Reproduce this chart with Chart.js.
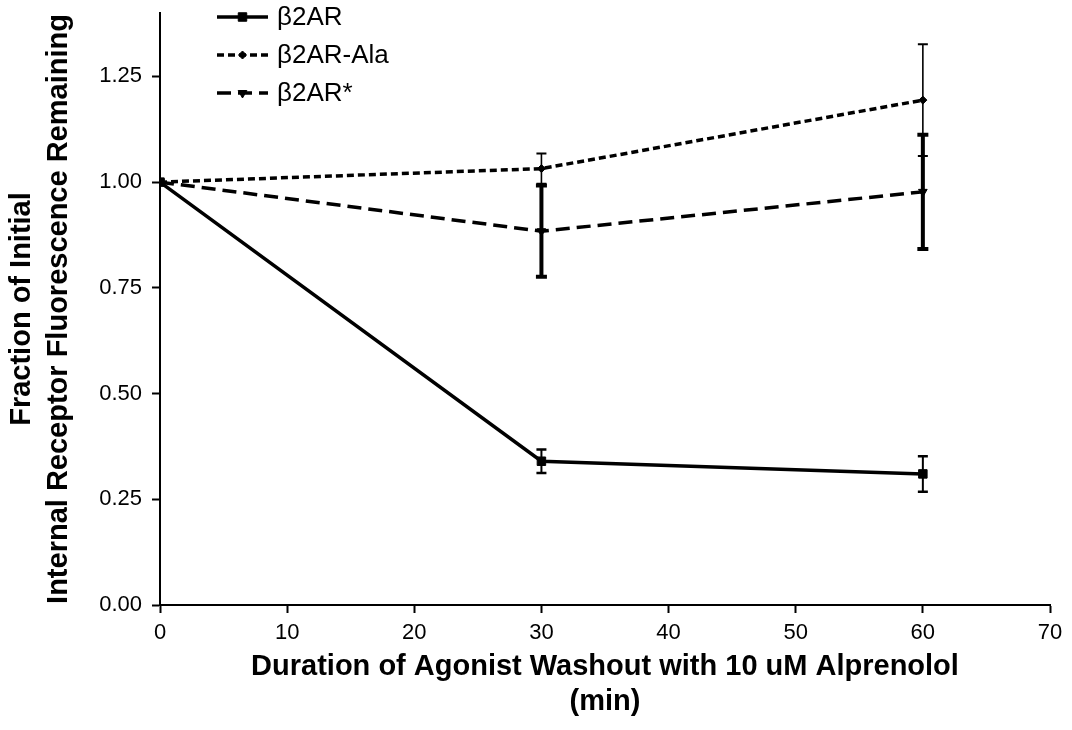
<!DOCTYPE html>
<html>
<head>
<meta charset="utf-8">
<script src="https://cdn.jsdelivr.net/npm/chart.js@4.4.1/dist/chart.umd.min.js"></script>
<style>
  html, body { margin: 0; padding: 0; background: #fff; }
  #wrap { width: 1072px; height: 730px; }
</style>
</head>
<body>
<div id="wrap"><canvas id="c" width="1072" height="730"></canvas></div>
<script>
// Washout time points (min)
const times = [0, 30, 60];

// Fraction of initial internal receptor fluorescence remaining, with SEM
const b2ar      = [1.00, 0.340, 0.310];
const b2arErr   = [0, 0.028, 0.042];
const b2arAla   = [1.00, 1.032, 1.194];
const b2arAlaErr = [0, 0.036, 0.132];
const b2arStar  = [1.00, 0.884, 0.977];
const b2arStarErr = [0, 0.108, 0.135];

const seriesNames = ['\u03B22AR', '\u03B22AR-Ala', '\u03B22AR*'];
const xTicks = [0, 10, 20, 30, 40, 50, 60, 70];
const yTicks = [0, 0.25, 0.5, 0.75, 1.0, 1.25];

const FONT = "'Liberation Sans', Arial, Helvetica, sans-serif";

const pts = (ys) => times.map((t, i) => ({ x: t, y: ys[i] }));

const styles = [
  { dash: [], pointStyle: 'rect', radius: 6, rotation: 0, errWidth: 2, capW: 10, capLW: 2.5 },
  { dash: [7, 4], pointStyle: 'rectRot', radius: 4, rotation: 0, errWidth: 1.6, capW: 10, capLW: 2 },
  { dash: [14, 7], pointStyle: 'triangle', radius: 5, rotation: 180, errWidth: 4, capW: 11, capLW: 4 }
];

const values = [b2ar, b2arAla, b2arStar];
const errors = [b2arErr, b2arAlaErr, b2arStarErr];

const datasets = values.map((v, i) => ({
  label: seriesNames[i],
  data: pts(v),
  errors: errors[i],
  borderColor: '#000',
  backgroundColor: '#000',
  borderWidth: 3.5,
  borderDash: styles[i].dash,
  pointStyle: styles[i].pointStyle,
  pointRadius: styles[i].radius,
  pointRotation: styles[i].rotation,
  pointBorderWidth: 1,
  pointBackgroundColor: '#000',
  pointBorderColor: '#000',
  tension: 0,
  fill: false
}));

// Vertical error bars with end caps, placed through the chart's scales
const errorBars = {
  id: 'errorBars',
  afterDatasetsDraw(chart) {
    const { ctx, scales: { x, y } } = chart;
    ctx.save();
    ctx.strokeStyle = '#000';
    ctx.setLineDash([]);
    chart.data.datasets.forEach((ds, di) => {
      const st = styles[di];
      ds.data.forEach((p, i) => {
        const e = ds.errors[i];
        if (!e) return;
        const px = x.getPixelForValue(p.x);
        const top = y.getPixelForValue(p.y + e);
        const bot = y.getPixelForValue(p.y - e);
        ctx.lineWidth = st.errWidth;
        ctx.beginPath();
        ctx.moveTo(px, top);
        ctx.lineTo(px, bot);
        ctx.stroke();
        ctx.lineWidth = st.capLW;
        ctx.beginPath();
        ctx.moveTo(px - st.capW / 2, top);
        ctx.lineTo(px + st.capW / 2, top);
        ctx.moveTo(px - st.capW / 2, bot);
        ctx.lineTo(px + st.capW / 2, bot);
        ctx.stroke();
      });
    });
    ctx.restore();
  }
};

// Legend: line sample with marker, then series name
const lineLegend = {
  id: 'lineLegend',
  afterDraw(chart) {
    const { ctx } = chart;
    const x0 = 217, x1 = 268, tx = 277;
    const rows = [17, 55, 93];
    ctx.save();
    chart.data.datasets.forEach((ds, i) => {
      const yy = rows[i];
      ctx.strokeStyle = '#000';
      ctx.lineWidth = 3.5;
      ctx.setLineDash(styles[i].dash);
      ctx.beginPath();
      ctx.moveTo(x0, yy);
      ctx.lineTo(x1, yy);
      ctx.stroke();
      ctx.setLineDash([]);
      ctx.fillStyle = '#000';
      ctx.lineWidth = 1;
      Chart.helpers.drawPoint(ctx, {
        pointStyle: styles[i].pointStyle,
        radius: styles[i].radius,
        rotation: styles[i].rotation,
        borderWidth: 1
      }, (x0 + x1) / 2, yy);
      ctx.font = '26px ' + FONT;
      ctx.textBaseline = 'middle';
      ctx.textAlign = 'left';
      ctx.fillText(ds.label, tx, yy + 1);
    });
    ctx.restore();
  }
};

new Chart(document.getElementById('c'), {
  type: 'line',
  data: { datasets },
  plugins: [errorBars, lineLegend],
  options: {
    responsive: false,
    animation: false,
    layout: { padding: { top: 13, right: 22, left: 0, bottom: 0 } },
    plugins: { legend: { display: false }, tooltip: { enabled: false } },
    scales: {
      x: {
        type: 'linear',
        min: 0,
        max: 70,
        afterFit: (s) => { s.height = 125; s.paddingLeft = 0; s.paddingRight = 0; },
        afterBuildTicks: (s) => { s.ticks = xTicks.map(v => ({ value: v })); },
        border: { display: true, color: '#000', width: 2 },
        grid: { drawOnChartArea: false, drawTicks: true, tickLength: 8, tickColor: '#000', tickWidth: 2 },
        ticks: { color: '#000', padding: 7, font: { family: FONT, size: 22 }, maxRotation: 0 },
        title: {
          display: true,
          text: ['Duration of Agonist Washout with 10 uM Alprenolol', '(min)'],
          color: '#000',
          font: { family: FONT, size: 29, weight: 'bold', lineHeight: 1.22 },
          padding: { top: 0, bottom: 10 }
        }
      },
      y: {
        type: 'linear',
        min: 0,
        max: 1.4,
        afterFit: (s) => { s.width = 160; s.paddingTop = 0; s.paddingBottom = 0; },
        afterBuildTicks: (s) => { s.ticks = yTicks.map(v => ({ value: v })); },
        border: { display: true, color: '#000', width: 2 },
        grid: { drawOnChartArea: false, drawTicks: true, tickLength: 8, tickColor: '#000', tickWidth: 2 },
        ticks: {
          color: '#000', padding: 10, font: { family: FONT, size: 22 },
          callback: (v) => Number(v).toFixed(2)
        },
        title: {
          display: true,
          text: ['Fraction of Initial', 'Internal Receptor Fluorescence Remaining'],
          color: '#000',
          font: { family: FONT, size: 29, weight: 'bold', lineHeight: 1.28 },
          padding: { top: 3.5, bottom: 0 }
        }
      }
    }
  }
});
</script>
</body>
</html>
